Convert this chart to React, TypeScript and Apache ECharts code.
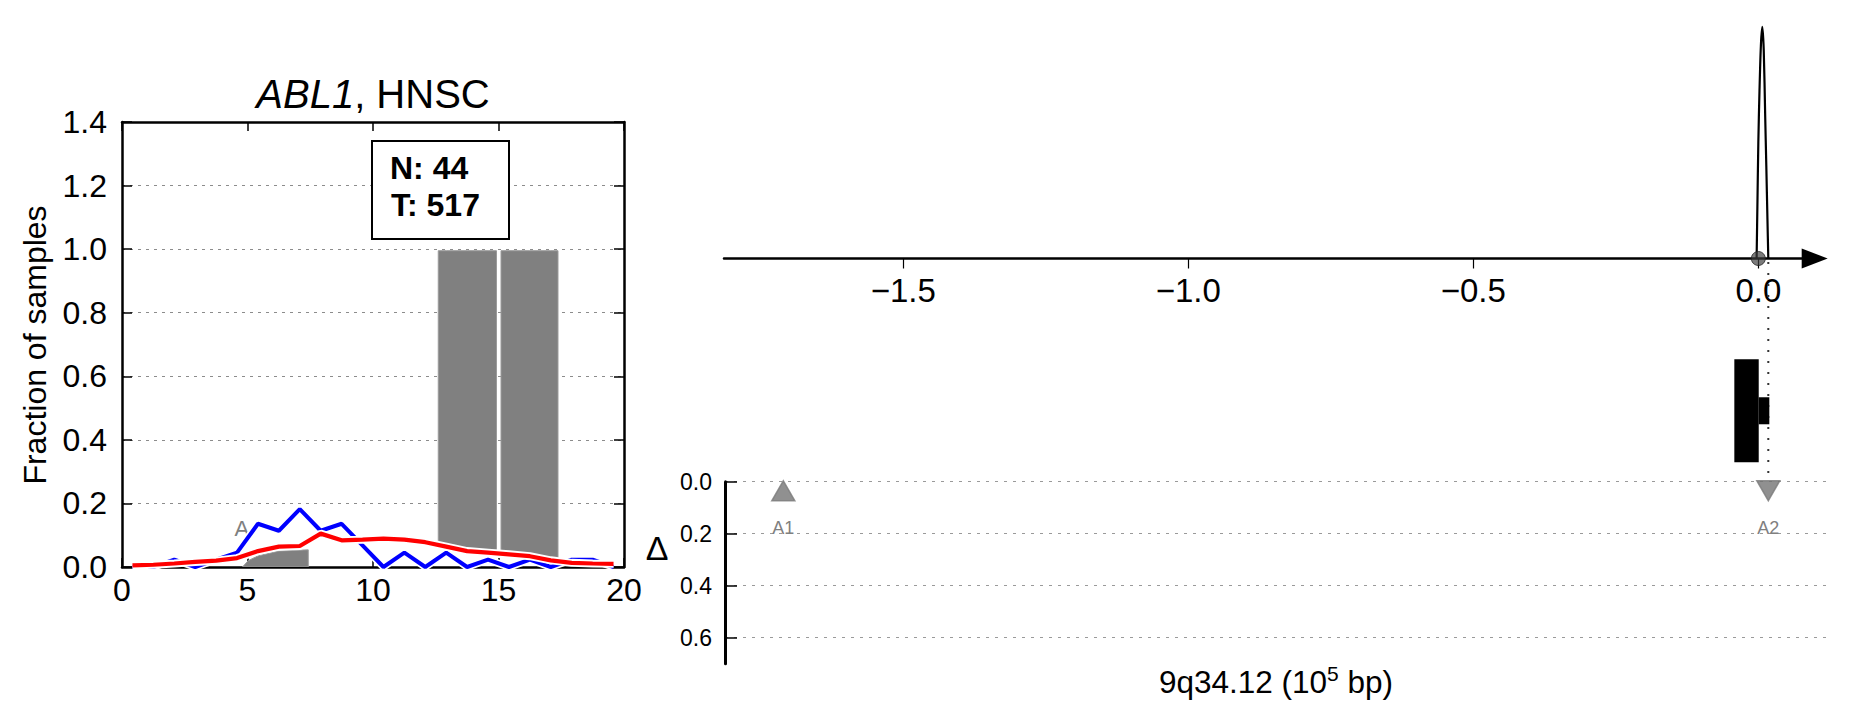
import React, { useEffect, useRef } from 'react';
import * as echarts from 'echarts';

const FONT = '"Liberation Sans", Arial, Helvetica, sans-serif';

// ---------- Left panel: fraction of samples ----------
const binCenters = [0.417, 1.25, 2.083, 2.917, 3.75, 4.583, 5.417, 6.25, 7.083, 7.917, 8.75, 9.583, 10.417, 11.25, 12.083, 12.917, 13.75, 14.583, 15.417, 16.25, 17.083, 17.917, 18.75, 19.583];
const normalFrac = [0, 0, 0.023, 0, 0.023, 0.045, 0.136, 0.114, 0.182, 0.114, 0.136, 0.068, 0, 0.045, 0, 0.045, 0, 0.023, 0, 0.023, 0, 0.023, 0.023, 0];
const tumorFrac = [0.005, 0.007, 0.011, 0.016, 0.02, 0.028, 0.05, 0.064, 0.066, 0.105, 0.084, 0.086, 0.089, 0.086, 0.078, 0.064, 0.05, 0.045, 0.04, 0.034, 0.021, 0.013, 0.011, 0.01];

// gray shaded regions (x, lower edge, upper edge)
const shadeAX = [4.8, 5.03, 5.417, 6.25, 7.083, 7.42];
const shadeALow = [0, 0, 0, 0, 0, 0];
const shadeAHigh = [0, 0.02, 0.035, 0.05, 0.053, 0.054];
const shadeBX = [12.6, 12.917, 13.75, 14.583, 14.92];
const shadeBLow = [0.069, 0.064, 0.05, 0.045, 0.043];
const shadeBHigh = [0.995, 0.995, 0.995, 0.995, 0.995];
const shadeCX = [15.1, 15.417, 16.25, 17.083, 17.37];
const shadeCLow = [0.042, 0.04, 0.034, 0.021, 0.018];
const shadeCHigh = [0.995, 0.995, 0.995, 0.995, 0.995];

const leftYMax = 1.4;
const annotA = [[4.77, 0.12, 'A']];

// ---------- Right top: density peak ----------
const peakX = [-0.003, -0.0015, 0.0, 0.002, 0.0045, 0.007, 0.0095, 0.012, 0.014, 0.016, 0.0175];
const peakY = [0.0, 0.25, 0.5, 0.72, 0.92, 1.0, 0.9, 0.62, 0.4, 0.17, 0.0];
const topTicks = [-1.5, -1.0, -0.5, 0.0];
const centerPoint = [[0, 0]];

// ---------- Right middle: gene structure ----------
const geneStart = [-0.0421, 0.0007];
const geneEnd = [0.0007, 0.0193];
const geneBottom = [0.126, 0.398];
const geneTop = [0.862, 0.591];

// ---------- Right bottom: markers ----------
const markerNames = ['A1', 'A2'];
const markerPos = [-1.7105, 0.01754];
const markerDelta = [0.035, 0.035];
const markerRotate = [0, 180];
const markerLabelDelta = [0.178, 0.178];
const guideLine = [[0.01754, -0.845], [0.01754, -0.005]];
const deltaTicks = [0, 0.2, 0.4, 0.6];

const TOP_MIN = -1.8146, TOP_MAX = 0.0989;
const BOT_MIN = -1.8128, BOT_MAX = 0.12;

function shadeSeries(xs: number[], lows: number[], highs: number[]) {
  return {
    type: 'custom',
    xAxisIndex: 0,
    yAxisIndex: 0,
    z: 1,
    clip: true,
    data: xs.map((x, i) => [x, lows[i], highs[i]]),
    renderItem: (params: any, api: any) => {
      if (params.dataIndex !== 0) return { type: 'group', children: [] };
      const top = xs.map((x, i) => api.coord([x, highs[i]]));
      const bottom = xs.map((x, i) => api.coord([x, lows[i]])).reverse();
      return {
        type: 'polygon',
        shape: { points: top.concat(bottom) },
        style: { fill: '#808080', stroke: '#9a9a9a', lineWidth: 1 },
      };
    },
  };
}

function textSeries(xi: number, yi: number, data: any[], fontSize: number, color: string) {
  return {
    type: 'custom',
    xAxisIndex: xi,
    yAxisIndex: yi,
    z: 6,
    silent: true,
    data,
    renderItem: (params: any, api: any) => {
      const p = api.coord([api.value(0), api.value(1)]);
      return {
        type: 'text',
        x: p[0],
        y: p[1],
        style: {
          text: String(data[params.dataIndex][2]),
          font: `${fontSize}px ${FONT}`,
          fontSize,
          fontFamily: FONT,
          fill: color,
          align: 'center',
          verticalAlign: 'middle',
          textAlign: 'center',
          textVerticalAlign: 'middle',
        },
      };
    },
  };
}

const fmt1 = (v: number) => v.toFixed(1);
const fmtMinus = (v: number) => (v < -1e-9 ? '\u2212' : '') + Math.abs(v).toFixed(1);
const frameLine = { show: true, onZero: false, lineStyle: { color: '#000', width: 2.5 } };
const inTick = { show: true, inside: true, length: 10, lineStyle: { color: '#000', width: 1.5 } };

const option: any = {
  animation: false,
  textStyle: { fontFamily: FONT },
  grid: [
    { left: 122, top: 122, width: 502, height: 445, outerBoundsMode: 'none' },
    { left: 724, top: 20, width: 1090.7, height: 238.5, outerBoundsMode: 'none' },
    { left: 725, top: 481.7, width: 1101.7, height: 182, outerBoundsMode: 'none' },
    { left: 724, top: 340, width: 1090.7, height: 140, outerBoundsMode: 'none' },
    { left: 725, top: 481.7, width: 1101.7, height: 156, outerBoundsMode: 'none' },
  ],
  xAxis: [
    {
      gridIndex: 0, type: 'value', min: 0, max: 20, interval: 5, position: 'bottom',
      axisLine: frameLine,
      axisTick: { ...inTick, length: 9 },
      axisLabel: { fontSize: 32, color: '#000', margin: 7, fontFamily: FONT },
      splitLine: { show: false },
    },
    {
      gridIndex: 1, type: 'value', min: TOP_MIN, max: TOP_MAX, position: 'bottom',
      axisLine: { show: true, onZero: false, symbol: ['none', 'triangle'], symbolSize: [20, 26], lineStyle: { color: '#000', width: 2.5 } },
      axisTick: { show: true, customValues: topTicks, length: 10, lineStyle: { color: '#000', width: 1.2 } },
      axisLabel: { customValues: topTicks, formatter: fmtMinus, fontSize: 33, color: '#000', margin: 15, fontFamily: FONT },
      splitLine: { show: false },
    },
    { gridIndex: 2, type: 'value', min: BOT_MIN, max: BOT_MAX, show: false },
    { gridIndex: 3, type: 'value', min: TOP_MIN, max: TOP_MAX, show: false },
    {
      gridIndex: 0, type: 'value', min: 0, max: 20, interval: 5, position: 'top',
      axisLine: frameLine,
      axisTick: { ...inTick, length: 9 },
      axisLabel: { show: false },
      splitLine: { show: false },
    },
    { gridIndex: 4, type: 'value', min: BOT_MIN, max: BOT_MAX, show: false },
  ],
  yAxis: [
    {
      gridIndex: 0, type: 'value', min: 0, max: leftYMax, interval: 0.2, position: 'left',
      axisLine: frameLine,
      axisTick: inTick,
      axisLabel: { formatter: fmt1, fontSize: 32, color: '#000', margin: 15, fontFamily: FONT },
      splitLine: { show: true, lineStyle: { type: [3, 5], color: '#8c8c8c', width: 1 } },
    },
    { gridIndex: 1, type: 'value', min: 0, max: 1.03, show: false },
    {
      gridIndex: 2, type: 'value', min: 0, max: 0.7, interval: 0.2, inverse: true, position: 'left',
      axisLine: { show: true, onZero: false, lineStyle: { color: '#000', width: 3 } },
      axisTick: { show: true, inside: true, length: 12, customValues: deltaTicks, lineStyle: { color: '#000', width: 1.5 } },
      axisLabel: { customValues: deltaTicks, formatter: (v: number) => (v > 0.65 ? '' : fmt1(v)), fontSize: 23, color: '#000', margin: 13, fontFamily: FONT },
      splitLine: { show: false },
    },
    { gridIndex: 3, type: 'value', min: 0, max: 1, show: false },
    {
      gridIndex: 0, type: 'value', min: 0, max: leftYMax, interval: 0.2, position: 'right',
      axisLine: frameLine,
      axisTick: inTick,
      axisLabel: { show: false },
      splitLine: { show: false },
    },
    {
      gridIndex: 4, type: 'value', min: 0, max: 0.6, interval: 0.2, inverse: true,
      axisLine: { show: false }, axisTick: { show: false }, axisLabel: { show: false },
      splitLine: { show: true, lineStyle: { type: [3, 6], color: '#9a9a9a', width: 1 } },
    },
  ],
  series: [
    shadeSeries(shadeAX, shadeALow, shadeAHigh),
    shadeSeries(shadeBX, shadeBLow, shadeBHigh),
    shadeSeries(shadeCX, shadeCLow, shadeCHigh),
    {
      type: 'line', xAxisIndex: 0, yAxisIndex: 0, z: 2, symbol: 'none', silent: true,
      data: binCenters.map((x, i) => [x, normalFrac[i]]),
      lineStyle: { color: '#ffffff', width: 7.5 },
    },
    {
      type: 'line', xAxisIndex: 0, yAxisIndex: 0, z: 3, symbol: 'none',
      data: binCenters.map((x, i) => [x, normalFrac[i]]),
      lineStyle: { color: '#0000ff', width: 4 },
    },
    {
      type: 'line', xAxisIndex: 0, yAxisIndex: 0, z: 4, symbol: 'none', silent: true,
      data: binCenters.map((x, i) => [x, tumorFrac[i]]),
      lineStyle: { color: '#ffffff', width: 8 },
    },
    {
      type: 'line', xAxisIndex: 0, yAxisIndex: 0, z: 5, symbol: 'none',
      data: binCenters.map((x, i) => [x, tumorFrac[i]]),
      lineStyle: { color: '#ff0000', width: 4.2 },
    },
    { ...textSeries(0, 0, annotA, 22, '#808080'), z: 1 },
    // right top
    {
      type: 'line', xAxisIndex: 1, yAxisIndex: 1, z: 3, symbol: 'none', smooth: 0.3,
      data: peakX.map((x, i) => [x, peakY[i]]),
      lineStyle: { color: '#000', width: 2.2 },
    },
    {
      type: 'scatter', xAxisIndex: 1, yAxisIndex: 1, z: 4, symbol: 'circle', symbolSize: 14,
      data: centerPoint,
      itemStyle: { color: 'rgba(60,60,60,0.85)', borderColor: '#222', borderWidth: 1 },
    },
    // gene structure
    {
      type: 'custom', xAxisIndex: 3, yAxisIndex: 3, z: 3,
      data: geneStart.map((s, i) => [s, geneEnd[i], geneBottom[i], geneTop[i]]),
      renderItem: (params: any, api: any) => {
        const p0 = api.coord([api.value(0), api.value(3)]);
        const p1 = api.coord([api.value(1), api.value(2)]);
        return {
          type: 'rect',
          shape: { x: p0[0], y: p0[1], width: p1[0] - p0[0], height: p1[1] - p0[1] },
          style: { fill: '#000' },
        };
      },
    },
    // right bottom
    {
      type: 'line', xAxisIndex: 2, yAxisIndex: 2, z: 1, symbol: 'none', clip: false,
      data: guideLine,
      lineStyle: { color: '#333', width: 2, type: [2, 9] },
    },
    {
      type: 'scatter', xAxisIndex: 2, yAxisIndex: 2, z: 4, symbol: 'triangle', symbolSize: [23, 20],
      data: markerPos.map((x, i) => ({ value: [x, markerDelta[i]], symbolRotate: markerRotate[i] })),
      itemStyle: { color: 'rgba(105,105,105,0.92)', borderColor: '#7a7a7a', borderWidth: 1.5 },
    },
    textSeries(2, 2, markerPos.map((x, i) => [x, markerLabelDelta[i], markerNames[i]]), 18, '#808080'),
  ],
  graphic: [
    {
      type: 'text', x: 373, y: 94, z: 10,
      style: {
        text: '{i|ABL1}{n|, HNSC}',
        rich: {
          i: { fontStyle: 'italic', fontSize: 40, fontFamily: FONT, fill: '#000' },
          n: { fontSize: 40, fontFamily: FONT, fill: '#000' },
        },
        fontSize: 40, fontFamily: FONT,
        align: 'center', verticalAlign: 'middle', textAlign: 'center', textVerticalAlign: 'middle',
      },
    },
    {
      type: 'text', x: 35, y: 345, rotation: Math.PI / 2, z: 10,
      style: {
        text: 'Fraction of samples', fontSize: 32, fontFamily: FONT, fill: '#000',
        align: 'center', verticalAlign: 'middle', textAlign: 'center', textVerticalAlign: 'middle',
      },
    },
    {
      type: 'rect', z: 10,
      shape: { x: 372, y: 141, width: 137, height: 98 },
      style: { fill: '#fff', stroke: '#000', lineWidth: 2 },
    },
    {
      type: 'text', x: 390, y: 168, z: 11,
      style: {
        text: 'N: 44', fontSize: 32, fontWeight: 'bold', fontFamily: FONT, fill: '#000',
        align: 'left', verticalAlign: 'middle', textAlign: 'left', textVerticalAlign: 'middle',
      },
    },
    {
      type: 'text', x: 391, y: 205, z: 11,
      style: {
        text: 'T: 517', fontSize: 32, fontWeight: 'bold', fontFamily: FONT, fill: '#000',
        align: 'left', verticalAlign: 'middle', textAlign: 'left', textVerticalAlign: 'middle',
      },
    },
    {
      type: 'text', x: 657, y: 548, z: 10,
      style: {
        text: '\u0394', fontSize: 34, fontFamily: FONT, fill: '#000',
        align: 'center', verticalAlign: 'middle', textAlign: 'center', textVerticalAlign: 'middle',
      },
    },
    {
      type: 'text', x: 1276, y: 682, z: 10,
      style: {
        text: '{n|9q34.12 (10}{s|5}{n| bp)}',
        rich: {
          n: { fontSize: 31.5, fontFamily: FONT, fill: '#000', lineHeight: 38 },
          s: { fontSize: 21, fontFamily: FONT, fill: '#000', lineHeight: 24, verticalAlign: 'top' },
        },
        fontSize: 31.5, fontFamily: FONT,
        align: 'center', verticalAlign: 'middle', textAlign: 'center', textVerticalAlign: 'middle',
      },
    },
  ],
};

export default function App() {
  const ref = useRef<HTMLDivElement>(null);
  useEffect(() => {
    const chart = echarts.init(ref.current!, null, { renderer: 'svg' });
    chart.setOption(option);
    return () => chart.dispose();
  }, []);
  return (
    <div
      ref={ref}
      style={{ position: 'fixed', left: 0, top: 0, width: 1851, height: 718, background: '#fff' }}
    />
  );
}
